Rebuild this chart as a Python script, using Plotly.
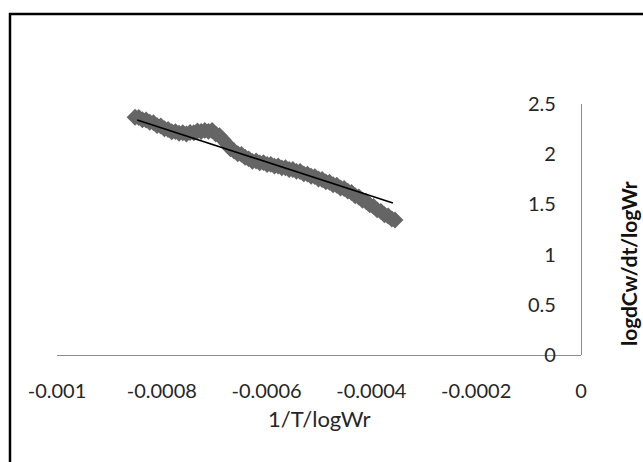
import plotly.graph_objects as go

# Observations: 1/T/logWr (x) against logdCw/dt/logWr (y)
inv_t_log_wr = [
    -0.000851, -0.000844, -0.000837, -0.000830, -0.000823, -0.000816, -0.000809, -0.000802,
    -0.000795, -0.000788, -0.000781, -0.000774, -0.000767, -0.000760, -0.000753, -0.000746,
    -0.000739, -0.000732, -0.000725, -0.000718, -0.000711, -0.000704, -0.000697, -0.000690,
    -0.000683, -0.000676, -0.000669, -0.000662, -0.000655, -0.000648, -0.000641, -0.000634,
    -0.000627, -0.000620, -0.000613, -0.000606, -0.000599, -0.000592, -0.000585, -0.000578,
    -0.000571, -0.000564, -0.000557, -0.000550, -0.000543, -0.000536, -0.000529, -0.000522,
    -0.000515, -0.000508, -0.000501, -0.000494, -0.000487, -0.000480, -0.000473, -0.000466,
    -0.000459, -0.000452, -0.000445, -0.000438, -0.000431, -0.000424, -0.000417, -0.000410,
    -0.000403, -0.000396, -0.000389, -0.000382, -0.000375, -0.000368, -0.000361, -0.000355,
]
log_dcw_dt_log_wr = [
    2.368, 2.365, 2.343, 2.341, 2.318, 2.314, 2.285, 2.281,
    2.254, 2.246, 2.223, 2.225, 2.208, 2.214, 2.201, 2.216,
    2.214, 2.231, 2.226, 2.237, 2.227, 2.236, 2.200, 2.185,
    2.145, 2.105, 2.054, 2.032, 2.005, 1.998, 1.970, 1.953,
    1.929, 1.932, 1.914, 1.916, 1.898, 1.899, 1.881, 1.883,
    1.864, 1.865, 1.847, 1.848, 1.829, 1.827, 1.804, 1.802,
    1.780, 1.777, 1.753, 1.748, 1.724, 1.720, 1.695, 1.690,
    1.664, 1.659, 1.632, 1.619, 1.586, 1.574, 1.542, 1.529,
    1.495, 1.480, 1.445, 1.431, 1.397, 1.385, 1.355, 1.345,
]

# Fitted linear trend line (end points over the data range)
trend_x = [-0.000847, -0.000359]
trend_y = [2.341, 1.514]

x_ticks = [-0.001, -0.0008, -0.0006, -0.0004, -0.0002, 0]
x_tick_text = ["-0.001", "-0.0008", "-0.0006", "-0.0004", "-0.0002", "0"]
y_ticks = [0, 0.5, 1, 1.5, 2, 2.5]
y_tick_text = ["0", "0.5", "1", "1.5", "2", "2.5"]

FONT = "Lato"
TEXT = "#262626"

fig = go.Figure()
fig.add_trace(go.Scatter(
    x=inv_t_log_wr, y=log_dcw_dt_log_wr, mode="markers",
    marker=dict(symbol="diamond", size=13, color="#656565", line=dict(width=0)),
    showlegend=False, hoverinfo="skip",
))
fig.add_trace(go.Scatter(
    x=trend_x, y=trend_y, mode="lines",
    line=dict(color="black", width=1.6),
    showlegend=False, hoverinfo="skip",
))

fig.update_layout(
    width=643, height=462,
    margin=dict(l=57, r=62, t=104, b=107),
    paper_bgcolor="white", plot_bgcolor="white",
    font=dict(family=FONT, size=20, color=TEXT),
    xaxis=dict(
        range=[-0.001, 0], tickvals=x_ticks, ticktext=x_tick_text,
        showgrid=False, zeroline=False, showline=True, linecolor="#8c8c8c", linewidth=1.2,
        ticks="outside", ticklen=18, tickcolor="rgba(0,0,0,0)",
        tickfont=dict(family=FONT, size=20, color=TEXT),
    ),
    yaxis=dict(
        range=[0, 2.5], tickvals=y_ticks, ticktext=y_tick_text,
        side="left", anchor="free", position=1.0,
        showgrid=False, zeroline=False, showline=True, linecolor="#8c8c8c", linewidth=1.2,
        ticks="outside", ticklen=21, tickcolor="rgba(0,0,0,0)",
        tickfont=dict(family=FONT, size=20, color=TEXT),
    ),
    annotations=[
        dict(text="1/T/logWr", xref="paper", yref="paper", x=0.5, y=-0.251,
             xanchor="center", yanchor="middle", showarrow=False,
             font=dict(family=FONT, size=22, color=TEXT)),
        dict(text="<b>logdCw/dt/logWr</b>", xref="paper", yref="paper", x=1.0897, y=0.3625,
             xanchor="center", yanchor="middle", textangle=-90, showarrow=False,
             font=dict(family=FONT, size=21, color="#111")),
    ],
    shapes=[
        dict(type="path", xref="paper", yref="paper",
             path="M -0.0897,-0.46 L -0.0897,1.3586 L 1.14,1.3586",
             line=dict(color="black", width=2.5)),
    ],
)

fig.write_html("out.html")
